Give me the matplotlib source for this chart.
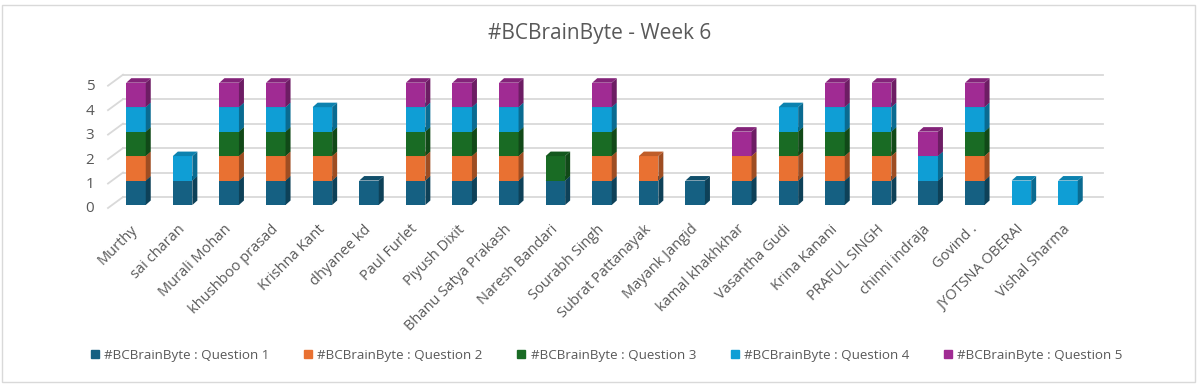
import matplotlib
matplotlib.use("Agg")
import matplotlib.pyplot as plt
from matplotlib.patches import Polygon, Rectangle
from matplotlib.lines import Line2D
import matplotlib.colors as mcolors
import numpy as np

plt.rcParams['font.family'] = ['Open Sans', 'DejaVu Sans']

names = ["Murthy", "sai charan", "Murali Mohan", "khushboo prasad", "Krishna Kant",
         "dhyanee kd", "Paul Furlet", "Piyush Dixit", "Bhanu Satya Prakash",
         "Naresh Bandari", "Sourabh Singh", "Subrat Pattanayak", "Mayank Jangid",
         "kamal khakhkhar", "Vasantha Gudi", "Krina Kanani", "PRAFUL SINGH",
         "chinni indraja", "Govind .", "JYOTSNA OBERAI", "Vishal Sharma"]
q1 = [1, 1, 1, 1, 1, 1, 1, 1, 1, 1, 1, 1, 1, 1, 1, 1, 1, 1, 1, 0, 0]
q2 = [1, 0, 1, 1, 1, 0, 1, 1, 1, 0, 1, 1, 0, 1, 1, 1, 1, 0, 1, 0, 0]
q3 = [1, 0, 1, 1, 1, 0, 1, 1, 1, 1, 1, 0, 0, 0, 1, 1, 1, 0, 1, 0, 0]
q4 = [1, 1, 1, 1, 1, 0, 1, 1, 1, 0, 1, 0, 0, 0, 1, 1, 1, 1, 1, 1, 1]
q5 = [1, 0, 1, 1, 0, 0, 1, 1, 1, 0, 1, 0, 0, 1, 0, 1, 1, 1, 1, 0, 0]
series = [q1, q2, q3, q4, q5]
series_labels = ["#BCBrainByte : Question 1", "#BCBrainByte : Question 2",
                 "#BCBrainByte : Question 3", "#BCBrainByte : Question 4",
                 "#BCBrainByte : Question 5"]
colors = ["#156082", "#E97132", "#196B24", "#0F9ED5", "#A02B93"]
yticks = [0, 1, 2, 3, 4, 5]
title = "#BCBrainByte - Week 6"

W, H = 1200, 385
fig = plt.figure(figsize=(W / 100, H / 100), dpi=100)
fig.patch.set_facecolor("white")

# axes geometry (pixels)
ax_l, ax_r, ax_t, ax_b = 100, 1110, 60, 212
ax = fig.add_axes([ax_l / W, 1 - ax_b / H, (ax_r - ax_l) / W, (ax_b - ax_t) / H])
x0_px, dxpx = 136.0, 46.6
y0_px, dypx = 205.0, 24.46
ax.set_xlim((ax_l - x0_px) / dxpx, (ax_r - x0_px) / dxpx)
ax.set_ylim(-(ax_b - y0_px) / dypx, (y0_px - ax_t) / dypx)
for s in ax.spines.values():
    s.set_visible(False)
ax.tick_params(length=0)
ax.set_yticks([])

bw = 19.5 / dxpx
ddx = 5.0 / dxpx
ddy = 4.5 / dypx

# back-wall gridlines with perspective stubs
gx0 = (123 - x0_px) / dxpx
gx1 = (1103 - x0_px) / dxpx
sx0 = (108 - x0_px) / dxpx
goff = 8.0 / dypx
soff = -3.0 / dypx
grid_c = "#D9D9D9"
for v in yticks:
    ax.plot([gx0, gx1], [v + goff, v + goff], color=grid_c, lw=1.3, zorder=1, clip_on=False)
    ax.plot([sx0, gx0], [v + soff, v + goff], color=grid_c, lw=1.3, zorder=1, clip_on=False)
    ax.text((90 - x0_px) / dxpx, v - 4.0 / dypx, str(v), ha="center", va="center",
            fontsize=11, color="#595959", clip_on=False)


def shade(c, f):
    r, g, b = mcolors.to_rgb(c)
    return (r * f, g * f, b * f)


z = 2
for i in range(len(names)):
    bottom = 0
    for k, vals in enumerate(series):
        v = vals[i]
        if v <= 0:
            continue
        c = colors[k]
        xl, xr = i - bw / 2, i + bw / 2
        top = bottom + v
        ax.add_patch(Rectangle((xl, bottom), bw, v, facecolor=c, edgecolor="none", zorder=z))
        ax.add_patch(Polygon([(xr, bottom), (xr + ddx, bottom + ddy), (xr + ddx, top + ddy), (xr, top)],
                             closed=True, facecolor=shade(c, 0.68), edgecolor="none", zorder=z))
        ax.add_patch(Polygon([(xl, top), (xr, top), (xr + ddx, top + ddy), (xl + ddx, top + ddy)],
                             closed=True, facecolor=shade(c, 0.82), edgecolor="none", zorder=z))
        z += 1
        bottom = top

ax.set_xticks(range(len(names)))
ax.set_xticklabels(names, rotation=45, ha="right", va="center", rotation_mode="anchor",
                   fontsize=10.5, color="#595959")
ax.tick_params(axis="x", pad=11)

fig.text(0.5, 1 - 33 / H, title, ha="center", va="center", fontsize=15, color="#595959")

handles = [Line2D([], [], marker="s", linestyle="none", markersize=6,
                  markerfacecolor=c, markeredgecolor=c) for c in colors]
leg = fig.legend(handles, series_labels, loc="center", ncol=5,
                 bbox_to_anchor=(0.505, 1 - 355 / H), frameon=False,
                 fontsize=9.6, handlelength=0.8, handletextpad=0.3, columnspacing=2.5)
for t in leg.get_texts():
    t.set_color("#595959")

fig.add_artist(Rectangle((2 / W, 1 - 382 / H), 1193 / W, 377 / H, transform=fig.transFigure,
                         facecolor="none", edgecolor="#D9D9D9", lw=1.0))

fig.savefig("out.png", dpi=100, facecolor="white")
